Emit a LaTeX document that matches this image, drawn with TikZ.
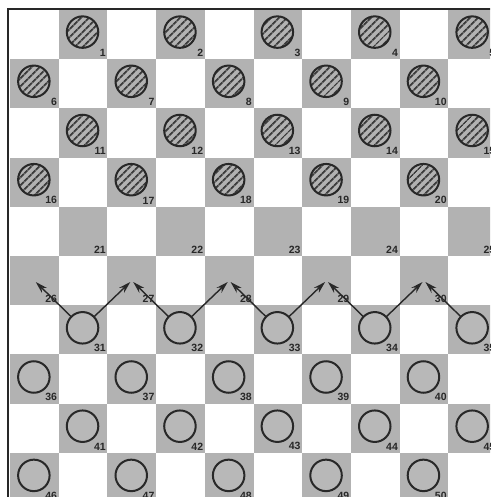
\documentclass[tikz,border=0pt]{standalone}
\usepackage{fontspec}
\setsansfont{Liberation Sans}
\usetikzlibrary{patterns.meta,arrows.meta}
\definecolor{sqgray}{RGB}{178,178,178}
\definecolor{ink}{RGB}{40,40,40}
\tikzset{
  darksq/.style={fill=sqgray, draw=none, minimum width=48.7pt, minimum height=49.2pt, inner sep=0pt, outer sep=0pt},
  blackpc/.style={circle, minimum size=31.5pt, inner sep=0pt, draw=ink, line width=2pt,
    preaction={fill=sqgray}, pattern={Lines[angle=45,distance=5.4pt,line width=2pt]}, pattern color=ink!90},
  whitepc/.style={circle, minimum size=31.5pt, inner sep=0pt, draw=ink, line width=2pt, fill=sqgray!92},
  numlbl/.style={font=\sffamily\bfseries\fontsize{10.5}{10.5}\selectfont, text=ink, inner sep=0pt, anchor=south east},
  move/.style={draw=ink, line width=1.4pt, shorten >=2pt, shorten <=-1pt, -{Stealth[length=12pt,width=7pt]}},
  frameline/.style={draw=ink, line width=2.2pt},
}
\begin{document}
\begin{tikzpicture}[x=1pt,y=-1pt]
\useasboundingbox (0,0) rectangle (490,497);
\clip (0,0) rectangle (490,497);
\fill[white] (0,0) rectangle (490,497);
% dark squares
\foreach \r in {0,...,9} {
  \foreach \k in {0,...,4} {
    \pgfmathtruncatemacro\c{2*\k+1-mod(\r,2)}
    \pgfmathtruncatemacro\n{5*\r+\k+1}
    \node[darksq] (s\n) at ({10+48.7*(\c+0.5)},{10+49.2*(\r+0.5)}) {};
  }
}
% frame
\coordinate (fbl) at (8,510);
\coordinate (ftl) at (8,9);
\coordinate (ftr) at (500,9);
\draw[frameline] (fbl) -- (ftl) -- (ftr);
% pieces
\foreach \n in {1,...,20} {
  \node[blackpc, xshift=-0.5pt, yshift=2.5pt] (p\n) at (s\n) {};
}
\foreach \n in {31,...,50} {
  \node[whitepc, xshift=-0.5pt, yshift=2pt] (p\n) at (s\n) {};
}
% numbers
\foreach \n in {1,...,50} {
  \node[numlbl, xshift=-1.5pt, yshift=2.5pt] (l\n) at (s\n.south east) {\n};
}
% moves
\foreach \a/\t in {31/26,31/27,32/27,32/28,33/28,33/29,34/29,34/30,35/30} {
  \draw[move] (p\a) -- (s\t.center);
}
\end{tikzpicture}
\end{document}
